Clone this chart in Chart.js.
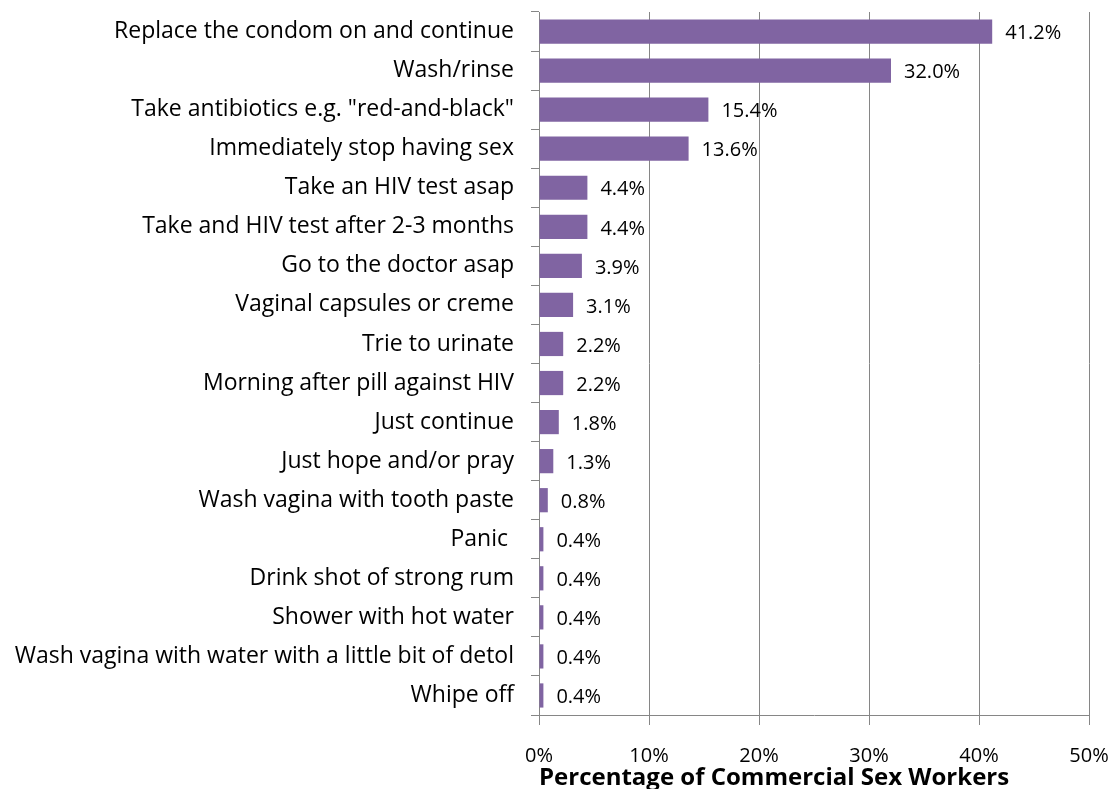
<!DOCTYPE html>
<html>
<head>
<meta charset="utf-8">
<script src="https://cdn.jsdelivr.net/npm/chart.js@4.4.1/dist/chart.umd.min.js"></script>
<style>
  html, body { margin: 0; padding: 0; background: #fff; }
  #wrap { width: 1113px; height: 789px; }
</style>
</head>
<body>
<div id="wrap"><canvas id="chart" width="1113" height="789"></canvas></div>
<script>
// categories and values
const categories = [
    'Replace the condom on and continue',
    'Wash/rinse',
    'Take antibiotics e.g. "red-and-black"',
    'Immediately stop having sex',
    'Take an HIV test asap',
    'Take and HIV test after 2-3 months',
    'Go to the doctor asap',
    'Vaginal capsules or creme',
    'Trie to urinate',
    'Morning after pill against HIV',
    'Just continue',
    'Just hope and/or pray',
    'Wash vagina with tooth paste',
    'Panic ',
    'Drink shot of strong rum',
    'Shower with hot water',
    'Wash vagina with water with a little bit of detol',
    'Whipe off'
];
const percentages = [41.2, 32.0, 15.4, 13.6, 4.4, 4.4, 3.9, 3.1, 2.2, 2.2, 1.8, 1.3, 0.8, 0.4, 0.4, 0.4, 0.4, 0.4];
const xTicks = [0, 10, 20, 30, 40, 50];
const axisTitle = 'Percentage of Commercial Sex Workers';

const FONT = '"Open Sans", Lato, sans-serif';

// draws the "41.2%" labels right of each bar
const valueLabels = {
    id: 'valueLabels',
    afterDatasetsDraw(chart) {
        const ctx = chart.ctx;
        const meta = chart.getDatasetMeta(0);
        ctx.save();
        ctx.font = '20px ' + FONT;
        ctx.fillStyle = '#000';
        ctx.textAlign = 'left';
        ctx.textBaseline = 'middle';
        meta.data.forEach((bar, i) => {
            ctx.fillText(percentages[i].toFixed(1) + '%', bar.x + 13, bar.y + 2);
        });
        ctx.restore();
    }
};

const ctx = document.getElementById('chart').getContext('2d');
const chart = new Chart(ctx, {
    type: 'bar',
    data: {
        labels: categories,
        datasets: [{
            data: percentages,
            backgroundColor: '#8064A2',
            borderWidth: 0,
            categoryPercentage: 1,
            barPercentage: 0.62
        }]
    },
    options: {
        indexAxis: 'y',
        responsive: false,
        animation: false,
        layout: { padding: { left: 0, right: 24, top: 12, bottom: 0 } },
        plugins: {
            legend: { display: false },
            tooltip: { enabled: false }
        },
        scales: {
            x: {
                min: 0,
                max: 50,
                afterBuildTicks(scale) {
                    scale.ticks = xTicks.map(v => ({ value: v }));
                },
                afterFit(scale) {
                    scale.height = 74;
                    scale.paddingLeft = 0;
                    scale.paddingRight = 0;
                },
                grid: {
                    color: '#868686',
                    lineWidth: 1,
                    drawTicks: true,
                    tickLength: 10
                },
                border: { color: '#868686' },
                ticks: {
                    callback: v => v + '%',
                    color: '#000',
                    font: { family: FONT, size: 20 },
                    padding: 19,
                    maxRotation: 0
                },
                title: {
                    display: true,
                    align: 'start',
                    text: axisTitle,
                    color: '#000',
                    font: { family: FONT, size: 24, weight: 'bold', lineHeight: 0.9 },
                    padding: { top: 0, bottom: 0 }
                }
            },
            y: {
                afterFit(scale) {
                    scale.width = 539;
                    scale.paddingTop = 0;
                    scale.paddingBottom = 0;
                },
                grid: {
                    offset: true,
                    drawOnChartArea: false,
                    drawTicks: true,
                    tickLength: 8,
                    color: '#868686'
                },
                border: { color: '#868686' },
                ticks: {
                    color: '#000',
                    font: { family: FONT, size: 23 },
                    padding: 17,
                    autoSkip: false
                }
            }
        }
    },
    plugins: [valueLabels]
});
</script>
</body>
</html>
